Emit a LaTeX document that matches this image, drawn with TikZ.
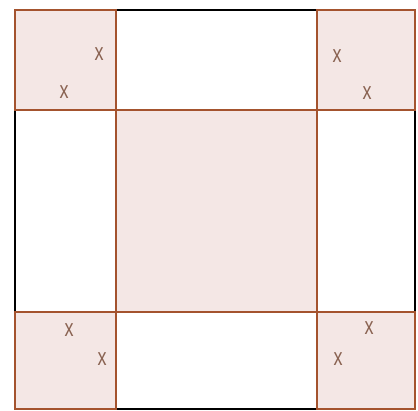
\documentclass[tikz,border=0pt]{standalone}
\usepackage{fontspec}
\setmainfont{Liberation Sans}
\definecolor{brn}{HTML}{A4532E}
\definecolor{pfill}{HTML}{F4E7E5}
\definecolor{xcol}{HTML}{8A6352}
\begin{document}
\begin{tikzpicture}[x=1pt,y=-1pt,
  cell/.style={draw=brn,fill=pfill,line width=2.2pt},
  mk/.style={text=xcol,font=\fontsize{18}{18}\selectfont,yscale=1.35,inner sep=0pt}]
\useasboundingbox (0,0) rectangle (418,410);
\fill[white] (0,0) rectangle (418,410);
\draw[black,line width=2.2pt] (15,10) rectangle (415,409);
\draw[cell] (15,10) rectangle (116,110);
\draw[cell] (317,10) rectangle (415,110);
\draw[cell] (15,312) rectangle (116,409);
\draw[cell] (317,312) rectangle (415,409);
\draw[cell] (116,110) rectangle (317,312);
\node[mk] (a1) at (99,54) {x};
\node[mk] (a2) at (64,92) {x};
\node[mk] (b1) at (337,56) {x};
\node[mk] (b2) at (367,93) {x};
\node[mk] (c1) at (69,330) {x};
\node[mk] (c2) at (102,359) {x};
\node[mk] (d1) at (369,328) {x};
\node[mk] (d2) at (338,359) {x};
\end{tikzpicture}
\end{document}
